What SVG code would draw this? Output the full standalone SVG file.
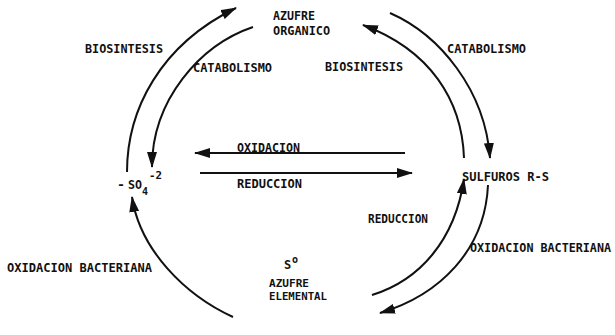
<svg xmlns="http://www.w3.org/2000/svg" width="615" height="335" viewBox="0 0 615 335">
  <style>
    text { font-family: "DejaVu Sans Mono", "Liberation Mono", monospace; font-weight: bold; font-size: 12px; fill: #111; }
    .small { font-size: 11px; }
    .sub { font-size: 10px; }
    .flow { fill: none; stroke: #111; stroke-width: 2; }
  </style>
  <defs>
    <marker id="head" markerUnits="userSpaceOnUse" markerWidth="16" markerHeight="10" refX="15" refY="5" orient="auto">
      <path d="M0,0 L16,5 L0,10 Z" fill="#111"/>
    </marker>
  </defs>
  <rect width="615" height="335" fill="#fff"/>

  <!-- compartments of the sulfur cycle -->
  <g id="azufre-organico">
    <text x="273" y="20" textLength="42" lengthAdjust="spacingAndGlyphs">AZUFRE</text>
    <text x="273" y="35" textLength="57" lengthAdjust="spacingAndGlyphs">ORGANICO</text>
  </g>
  <g id="sulfato">
    <text x="117" y="189" textLength="8" lengthAdjust="spacingAndGlyphs">-</text>
    <text x="128" y="189" textLength="14" lengthAdjust="spacingAndGlyphs">SO</text>
    <text class="sub" x="142" y="195">4</text>
    <text class="small" x="149" y="179" textLength="13" lengthAdjust="spacingAndGlyphs">-2</text>
  </g>
  <g id="sulfuros">
    <text x="462" y="181" textLength="87" lengthAdjust="spacingAndGlyphs">SULFUROS R-S</text>
  </g>
  <g id="azufre-elemental">
    <text x="284" y="269">S</text>
    <text class="sub" x="292" y="263">o</text>
    <text class="small" x="269" y="287" textLength="40" lengthAdjust="spacingAndGlyphs">AZUFRE</text>
    <text class="small" x="269" y="300" textLength="58" lengthAdjust="spacingAndGlyphs">ELEMENTAL</text>
  </g>

  <!-- transformation arrows -->
  <g id="connectors">
    <path class="flow" marker-end="url(#head)" d="M127,172 C127,110 160,45 236,8"/>
    <path class="flow" marker-end="url(#head)" d="M253,27 C200,45 152,100 152,167"/>
    <path class="flow" marker-end="url(#head)" d="M464,158 C462,100 430,50 363,25"/>
    <path class="flow" marker-end="url(#head)" d="M390,13 C440,35 485,90 490,158"/>
    <path class="flow" marker-end="url(#head)" d="M405,153 L195,153"/>
    <path class="flow" marker-end="url(#head)" d="M200,173 L412,173"/>
    <path class="flow" marker-end="url(#head)" d="M372,295 C420,280 455,240 464,179"/>
    <path class="flow" marker-end="url(#head)" d="M488,185 C485,250 440,295 380,313"/>
    <path class="flow" marker-end="url(#head)" d="M233,317 C185,295 140,250 132,197"/>
  </g>

  <!-- process labels -->
  <g id="labels">
    <text x="85" y="53" textLength="78" lengthAdjust="spacingAndGlyphs">BIOSINTESIS</text>
    <text x="193" y="72" textLength="79" lengthAdjust="spacingAndGlyphs">CATABOLISMO</text>
    <text x="325" y="71" textLength="78" lengthAdjust="spacingAndGlyphs">BIOSINTESIS</text>
    <text x="447" y="53" textLength="79" lengthAdjust="spacingAndGlyphs">CATABOLISMO</text>
    <text x="237" y="152" textLength="63" lengthAdjust="spacingAndGlyphs">OXIDACION</text>
    <text x="237" y="188" textLength="65" lengthAdjust="spacingAndGlyphs">REDUCCION</text>
    <text x="368" y="223" textLength="60" lengthAdjust="spacingAndGlyphs">REDUCCION</text>
    <text x="470" y="252" textLength="141" lengthAdjust="spacingAndGlyphs">OXIDACION BACTERIANA</text>
    <text x="7" y="272" textLength="145" lengthAdjust="spacingAndGlyphs">OXIDACION BACTERIANA</text>
  </g>
</svg>
